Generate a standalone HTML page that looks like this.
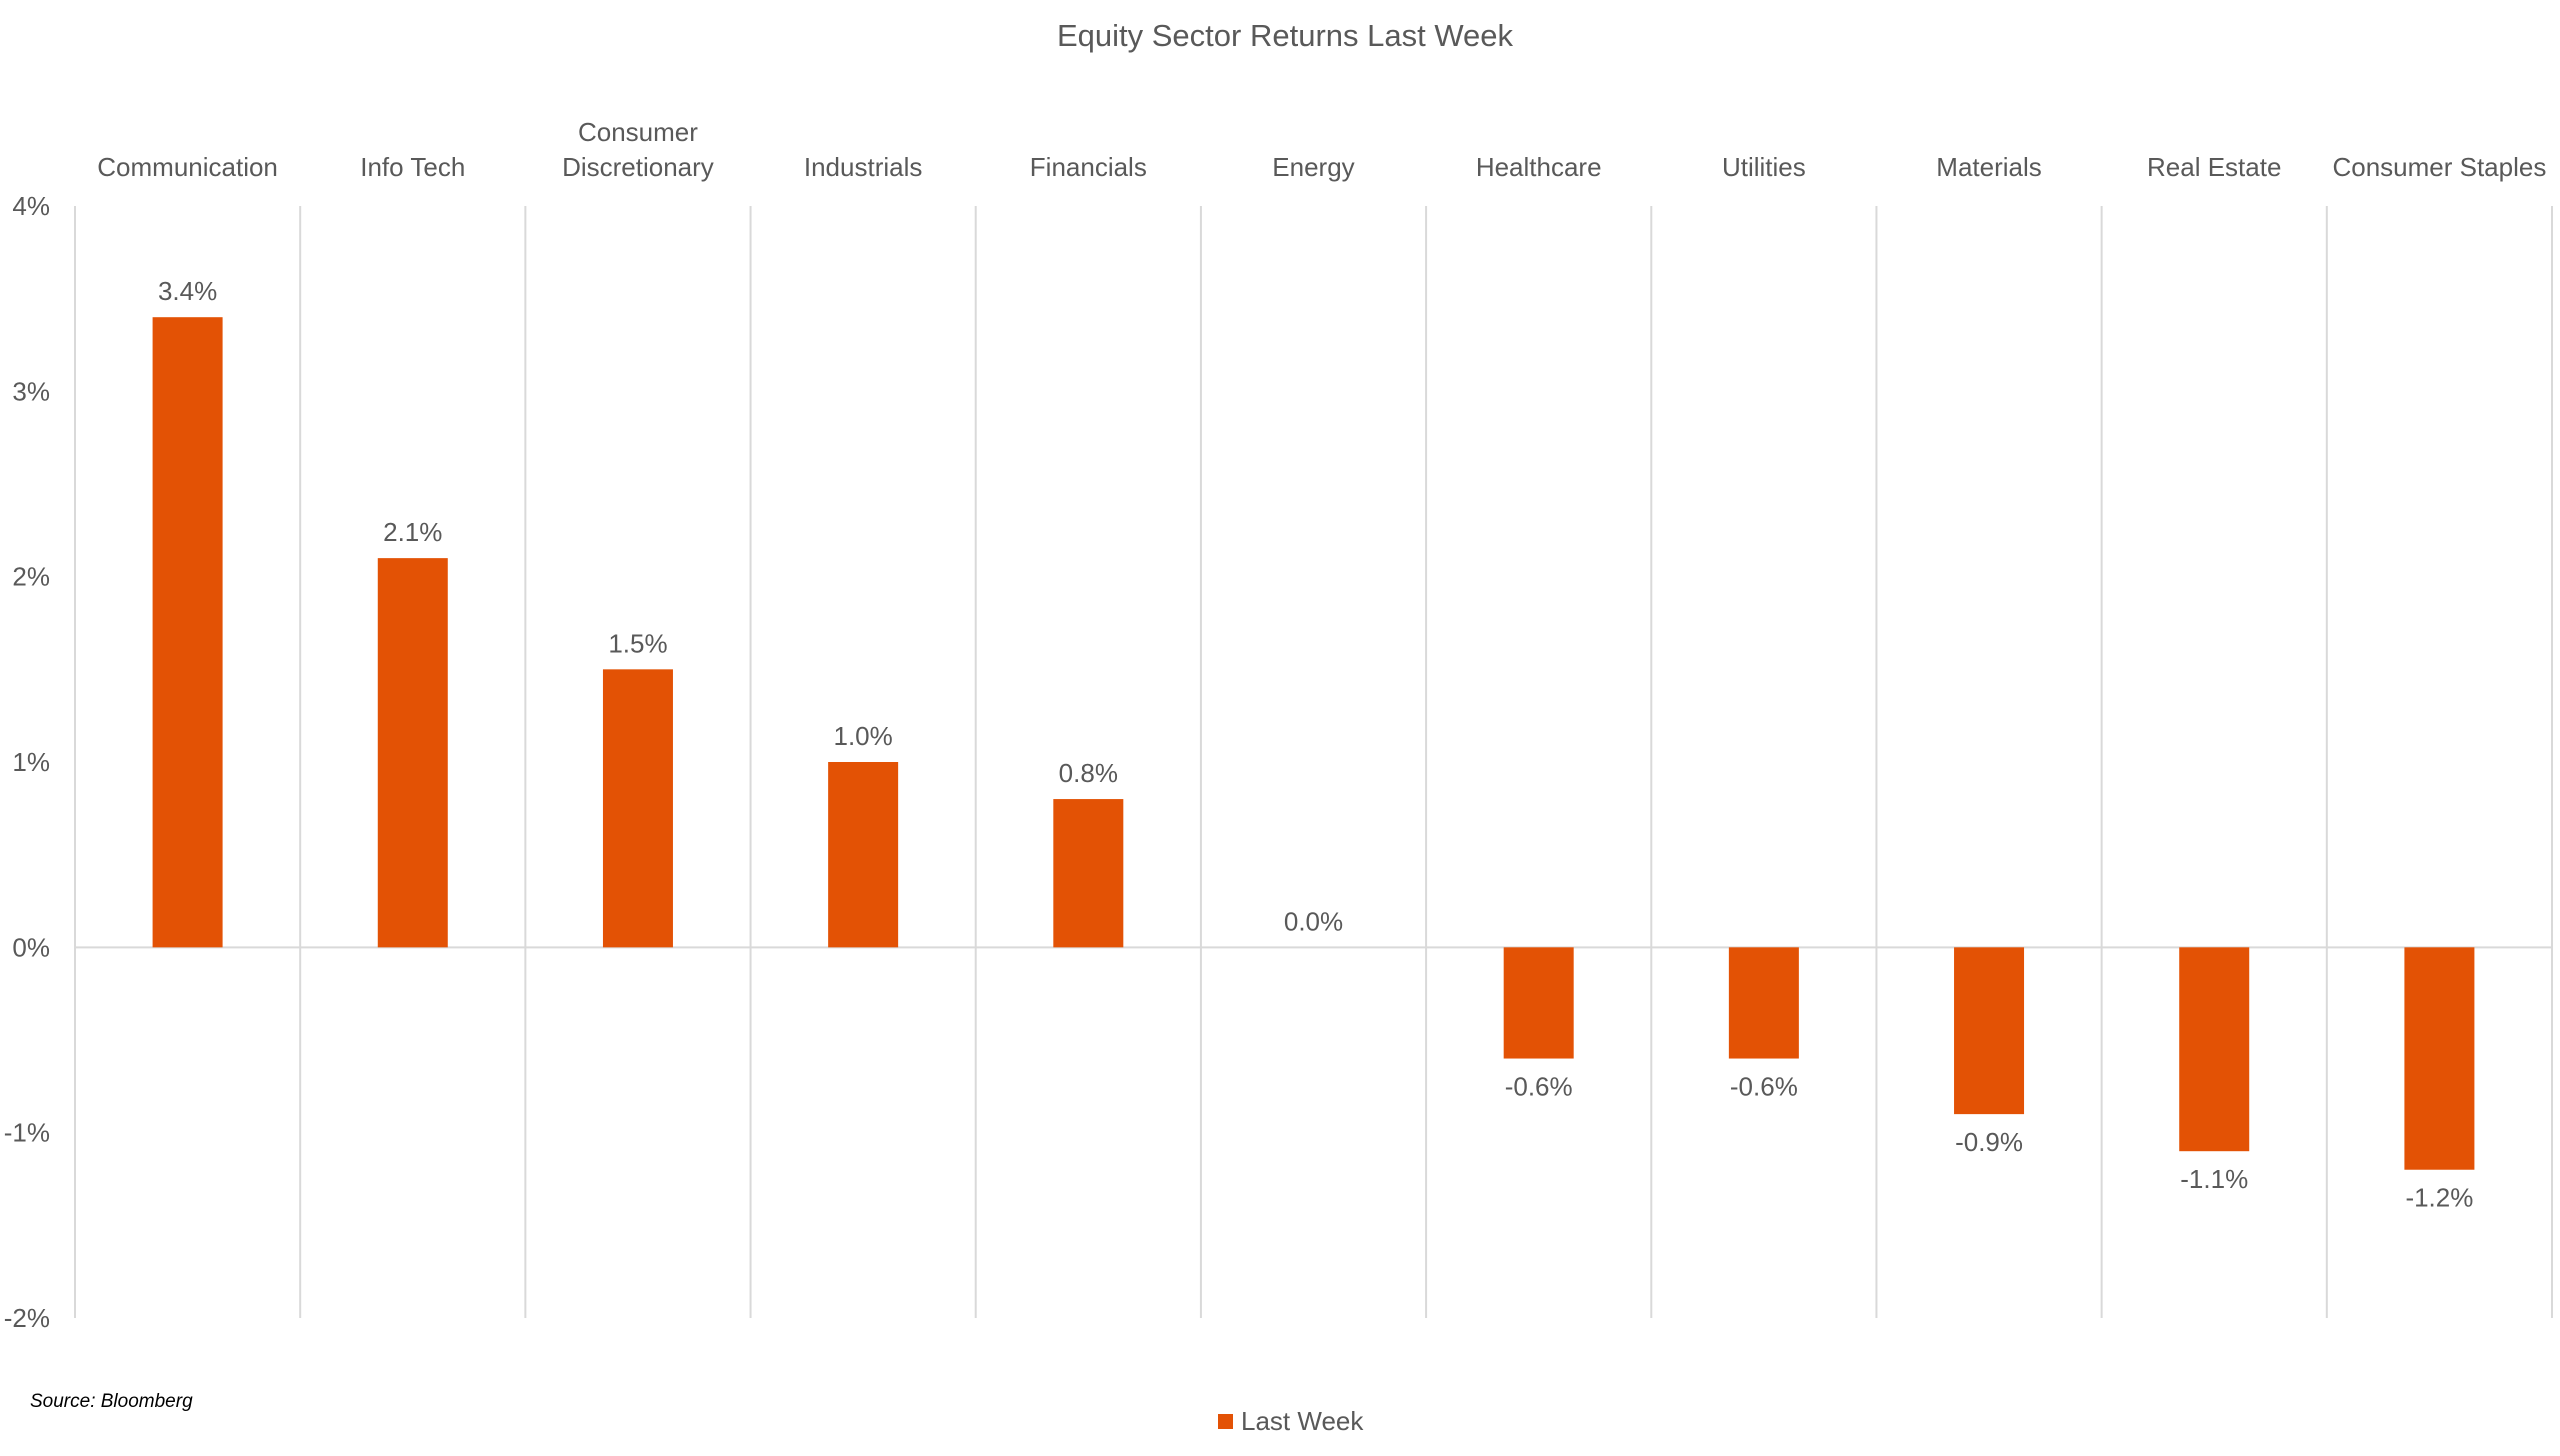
<!DOCTYPE html>
<html><head><meta charset="utf-8"><style>
html,body{margin:0;padding:0;background:#fff;}
svg text{font-family:"Liberation Sans",sans-serif;fill:#595959;}
</style></head><body>
<svg id="chart" width="2560" height="1451" viewBox="0 0 2560 1451" xmlns="http://www.w3.org/2000/svg">
<text x="1285" y="46" font-size="31" text-anchor="middle">Equity Sector Returns Last Week</text>
<g id="grid"></g>
<g id="bars"></g>
<g id="labels"></g>
<text x="30" y="1407" font-size="19" font-style="italic" style="fill:#000">Source: Bloomberg</text>
<g>
<rect x="1218" y="1414" width="15" height="15" fill="#E35205"/>
<text x="1241" y="1430" font-size="26">Last Week</text>
</g>
</svg>
<script>
const categories = [["Communication"],["Info Tech"],["Consumer","Discretionary"],["Industrials"],["Financials"],["Energy"],["Healthcare"],["Utilities"],["Materials"],["Real Estate"],["Consumer Staples"]];
const values = [3.4, 2.1, 1.5, 1.0, 0.8, 0.0, -0.6, -0.6, -0.9, -1.1, -1.2];
const yTicks = [4, 3, 2, 1, 0, -1, -2];
const yTickLabels = ["4%","3%","2%","1%","0%","-1%","-2%"];

const NS="http://www.w3.org/2000/svg";
const plotLeft=75, plotRight=2552, plotTop=206, plotBottom=1318, yMax=4, yMin=-2;
const bandW=(plotRight-plotLeft)/categories.length;
function xPos(i){return plotLeft+bandW*i;}
function yPos(v){return plotTop+(yMax-v)/(yMax-yMin)*(plotBottom-plotTop);}
function mk(tag,attrs,parent){const e=document.createElementNS(NS,tag);for(const k in attrs)e.setAttribute(k,attrs[k]);parent.appendChild(e);return e;}
const gridG=document.getElementById('grid'),barsG=document.getElementById('bars'),labelsG=document.getElementById('labels');
for(let i=0;i<=categories.length;i++){
  const l=mk('line',{x1:xPos(i),x2:xPos(i),y1:plotTop,y2:plotBottom,stroke:'#d9d9d9','stroke-width':2},gridG);
  
  
}
const zl=mk('line',{x1:plotLeft,x2:plotRight,y1:yPos(0),y2:yPos(0),stroke:'#d9d9d9','stroke-width':2},gridG);


yTicks.forEach((t,k)=>{
  const tx=mk('text',{x:50,y:yPos(t)+9,'font-size':26,'text-anchor':'end'},labelsG);
  tx.textContent=yTickLabels[k];
  
  
});
const bw=70;
values.forEach((v,i)=>{
  const cx=xPos(i)+bandW/2;
  const y0=yPos(0),y1=yPos(v);
  if(v!==0){
    const r=mk('rect',{x:cx-bw/2,y:Math.min(y0,y1),width:bw,height:Math.abs(y1-y0),fill:'#E35205'},barsG);
    
    
  }
  const ly = v>=0 ? y1-17 : y1+37;
  const t=mk('text',{x:cx,y:ly,'font-size':26,'text-anchor':'middle'},labelsG);
  t.textContent=v.toFixed(1)+'%';
  
  
  const lines=categories[i];
  lines.forEach((s,j)=>{
    const c=mk('text',{x:cx,y:176-(lines.length-1-j)*35,'font-size':26,'text-anchor':'middle'},labelsG);
    c.textContent=s;
    
    
  });
});
</script>
</body></html>
